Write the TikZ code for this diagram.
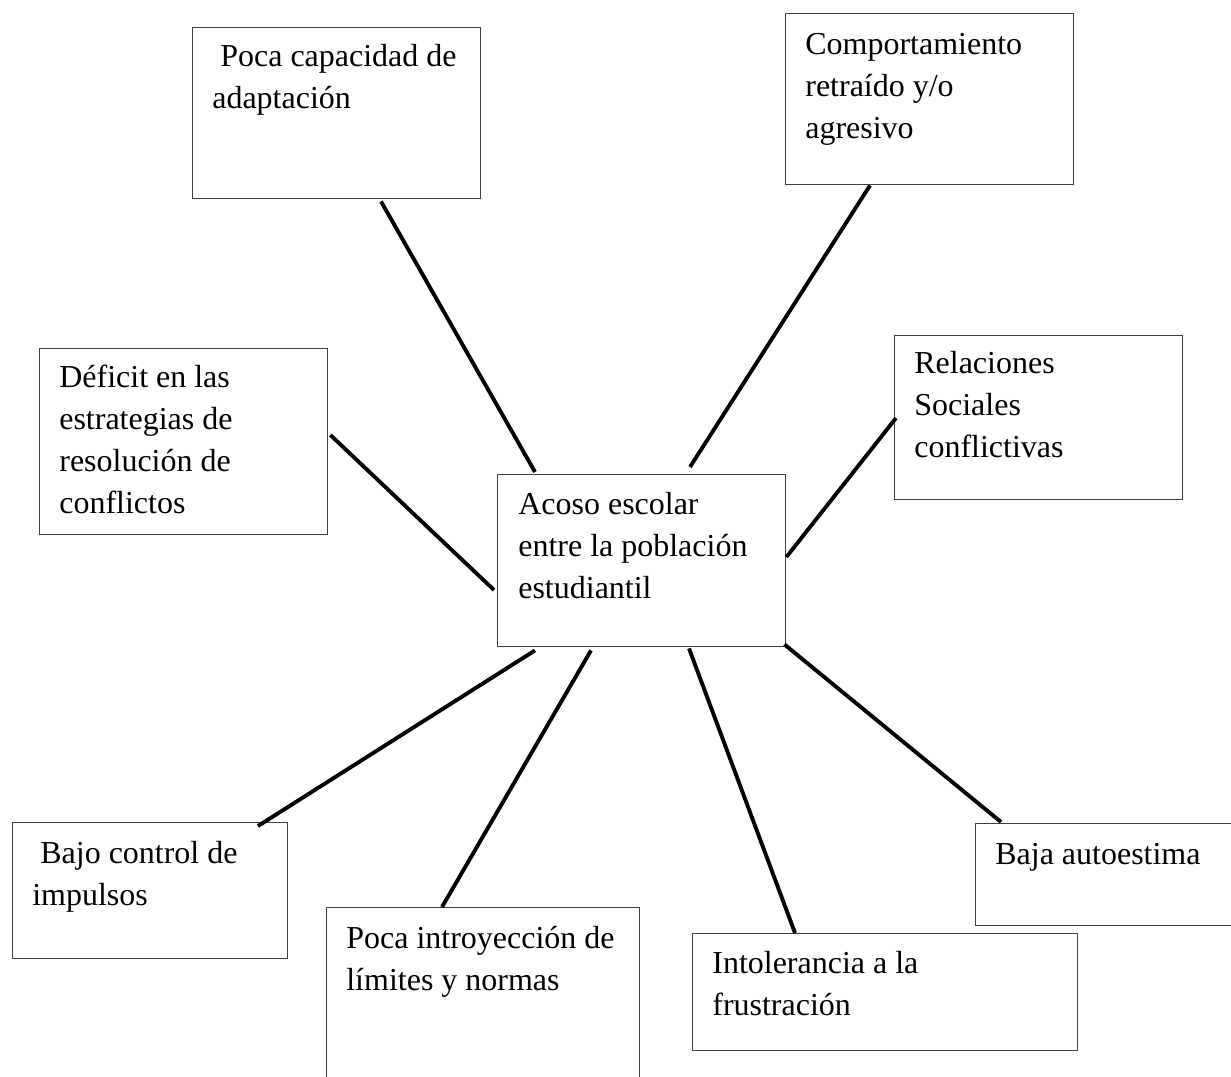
\documentclass[tikz,border=0pt]{standalone}
\usepackage{fontspec}
\setmainfont{Liberation Serif}

\begin{document}
\begin{tikzpicture}[
  caja/.style={draw=black!75, line width=0.8pt, anchor=north west, inner sep=0pt},
  texto/.style={anchor=base west, align=left, inner sep=0pt, font=\fontsize{18.2}{23.9}\selectfont},
  linea/.style={line width=2.2pt}
]
\useasboundingbox (0,0) rectangle (24.62,21.52);
\clip (0,0) rectangle (24.62,21.52);

% Problema central
\node[caja, minimum width=5.76cm, minimum height=3.44cm] (acoso) at (9.94,12.04) {};
\node[texto] (acosoT) at (10.36,9.56) {Acoso escolar\\entre la población\\estudiantil};

% Causas de arriba
\node[caja, minimum width=5.76cm, minimum height=3.42cm] (poca) at (3.84,20.98) {};
\node[texto] (pocaT) at (4.24,19.34) {\ Poca capacidad de\\adaptación};

\node[caja, minimum width=5.76cm, minimum height=3.42cm] (comp) at (15.70,21.26) {};
\node[texto] (compT) at (16.10,18.74) {Comportamiento\\retraído y/o\\agresivo};

\node[caja, minimum width=5.76cm, minimum height=3.72cm] (deficit) at (0.78,14.56) {};
\node[texto] (deficitT) at (1.18,11.26) {Déficit en las\\estrategias de\\resolución de\\conflictos};

\node[caja, minimum width=5.76cm, minimum height=3.28cm] (relac) at (17.88,14.82) {};
\node[texto] (relacT) at (18.28,12.36) {Relaciones\\Sociales\\conflictivas};

% Causas de abajo
\node[caja, minimum width=5.50cm, minimum height=2.72cm] (bajo) at (0.24,5.08) {};
\node[texto] (bajoT) at (0.64,3.42) {\ Bajo control de\\impulsos};

\node[caja, minimum width=6.26cm, minimum height=3.60cm] (limites) at (6.52,3.38) {};
\node[texto] (limitesT) at (6.92,1.72) {Poca introyección de\\límites y normas};

\node[caja, minimum width=7.70cm, minimum height=2.34cm] (intol) at (13.84,2.86) {};
\node[texto] (intolT) at (14.24,1.22) {Intolerancia a la\\frustración};

\node[caja, minimum width=5.40cm, minimum height=2.04cm] (baja) at (19.50,5.06) {};
\node[texto] (bajaT) at (19.90,4.24) {Baja autoestima};

% Conexiones
\draw[linea] ([xshift=3.78cm, yshift=-0.04cm]poca.south west) -- ([xshift=0.76cm, yshift=0.04cm]acoso.north west);
\draw[linea] ([xshift=1.70cm]comp.south west) -- ([xshift=3.86cm, yshift=0.14cm]acoso.north west);
\draw[linea] ([xshift=0.04cm, yshift=-1.74cm]deficit.north east) -- ([xshift=-0.06cm, yshift=-2.32cm]acoso.north west);
\draw[linea] ([xshift=0.04cm, yshift=-1.66cm]relac.north west) -- ([yshift=-1.66cm]acoso.north east);
\draw[linea] ([xshift=0.76cm, yshift=-0.06cm]acoso.south west) -- ([xshift=4.92cm, yshift=-0.08cm]bajo.north west);
\draw[linea] ([xshift=1.88cm, yshift=-0.06cm]acoso.south west) -- ([xshift=2.32cm]limites.north west);
\draw[linea] ([xshift=3.84cm, yshift=-0.02cm]acoso.south west) -- ([xshift=2.06cm]intol.north west);
\draw[linea] ([xshift=-0.04cm, yshift=0.06cm]acoso.south east) -- ([xshift=0.52cm, yshift=0.02cm]baja.north west);

\end{tikzpicture}
\end{document}
